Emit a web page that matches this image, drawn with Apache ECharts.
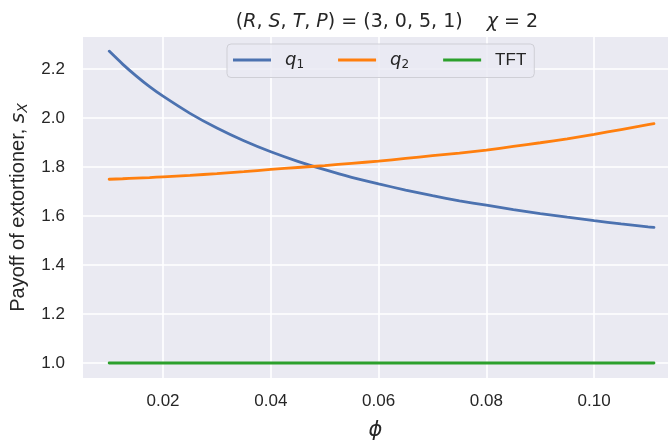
<!DOCTYPE html>
<html>
<head>
<meta charset="utf-8">
<script src="https://cdn.jsdelivr.net/npm/echarts@6/dist/echarts.min.js"></script>
<style>
  html, body { margin: 0; padding: 0; background: #ffffff; }
  #chart { width: 668px; height: 447px; }
</style>
</head>
<body>
<div id="chart"></div>
<script>
// values
const phi = [0.01, 0.0125, 0.015, 0.0175, 0.02, 0.025, 0.03, 0.035, 0.04, 0.045, 0.05, 0.055, 0.06,
  0.065, 0.07, 0.075, 0.08, 0.085, 0.09, 0.095, 0.10, 0.105, 0.11, 0.1111];
const q1 = [2.273, 2.220, 2.172, 2.128, 2.089, 2.019, 1.959, 1.907, 1.862, 1.823, 1.789, 1.758, 1.731,
  1.706, 1.683, 1.662, 1.644, 1.626, 1.610, 1.595, 1.581, 1.568, 1.556, 1.554];
const q2 = [1.750, 1.752, 1.755, 1.757, 1.760, 1.766, 1.773, 1.781, 1.790, 1.798, 1.806, 1.815, 1.824,
  1.835, 1.846, 1.857, 1.869, 1.884, 1.899, 1.915, 1.933, 1.953, 1.973, 1.977];
const tft = phi.map(() => 1.0);

const xTicks = [0.02, 0.04, 0.06, 0.08, 0.10];
const yTicks = [1.0, 1.2, 1.4, 1.6, 1.8, 2.0, 2.2];

const colors = { q1: '#4c72b0', q2: '#ff7f0e', TFT: '#2ca02c' };

const zip = (xs, ys) => xs.map((x, i) => [x, ys[i]]);

const chart = echarts.init(document.getElementById('chart'), null, { renderer: 'canvas' });

const mathFont = 'DejaVu Sans';
const tickFont = 'Liberation Sans';
const ink = '#262626';

const makeSeries = (name, values) => ({
  name: name,
  type: 'line',
  data: zip(phi, values),
  showSymbol: false,
  smooth: 0.2,
  lineStyle: { width: 2.8, color: colors[name], cap: 'round' },
  itemStyle: { color: colors[name] },
  emphasis: { disabled: true }
});

chart.setOption({
  animation: false,
  backgroundColor: '#ffffff',
  title: {
    text: '({i|R}, {i|S}, {i|T}, {i|P}) = (3, 0, 5, 1)    {i|χ} = 2',
    left: 382,
    textAlign: 'center',
    top: 8,
    textStyle: {
      fontFamily: mathFont,
      fontSize: 19,
      fontWeight: 'normal',
      color: ink,
      rich: {
        i: { fontFamily: mathFont, fontStyle: 'italic', fontSize: 19, color: ink }
      }
    }
  },
  legend: {
    left: 227,
    top: 44,
    itemWidth: 38,
    itemHeight: 3,
    itemGap: 34,
    icon: 'rect',
    padding: [7, 8, 7, 6],
    backgroundColor: 'rgba(234,234,242,0.8)',
    borderColor: '#cfcfd6',
    borderWidth: 1,
    borderRadius: 4,
    data: ['q1', 'q2', 'TFT'],
    formatter: (n) => n === 'TFT' ? '{t|TFT}' : '{i|q}{s|' + n.slice(1) + '}',
    textStyle: {
      color: ink,
      fontSize: 17,
      rich: {
        i: { fontFamily: mathFont, fontStyle: 'italic', fontSize: 18, padding: [0, 0, 0, 9], color: ink },
        s: { fontFamily: mathFont, fontSize: 12, padding: [9, 0, 0, 0], color: ink },
        t: { fontFamily: tickFont, fontSize: 17, padding: [0, 0, 0, 9], color: ink }
      }
    }
  },
  grid: {
    left: 83,
    right: 0,
    top: 37,
    bottom: 69,
    show: true,
    backgroundColor: '#eaeaf2',
    borderWidth: 0
  },
  xAxis: {
    type: 'value',
    min: 0.00515,
    max: 0.1137,
    name: 'ϕ',
    nameLocation: 'middle',
    nameGap: 42,
    nameTextStyle: { fontFamily: mathFont, fontStyle: 'italic', fontSize: 21, color: ink },
    axisLine: { show: false },
    axisTick: { show: false, customValues: xTicks },
    axisLabel: {
      customValues: xTicks,
      margin: 15,
      fontFamily: tickFont,
      fontSize: 17,
      color: ink,
      formatter: (v) => v.toFixed(2)
    },
    splitLine: { show: true, lineStyle: { color: '#ffffff', width: 1.6 } }
  },
  yAxis: {
    type: 'value',
    min: 0.9388,
    max: 2.3306,
    name: '{a|Payoff of extortioner, }{i|s}{x|X}',
    nameLocation: 'middle',
    nameRotate: 90,
    nameGap: 49,
    nameTextStyle: {
      rich: {
        a: { fontFamily: tickFont, fontSize: 20, color: ink },
        i: { fontFamily: mathFont, fontStyle: 'italic', fontSize: 20, color: ink },
        x: { fontFamily: mathFont, fontStyle: 'italic', fontSize: 14, padding: [9, 0, 0, 0], color: ink }
      }
    },
    axisLine: { show: false },
    axisTick: { show: false, customValues: yTicks },
    axisLabel: {
      customValues: yTicks,
      margin: 18,
      fontFamily: tickFont,
      fontSize: 17,
      color: ink,
      formatter: (v) => v.toFixed(1)
    },
    splitLine: { show: true, lineStyle: { color: '#ffffff', width: 1.6 } }
  },
  series: [
    makeSeries('q1', q1),
    makeSeries('q2', q2),
    makeSeries('TFT', tft)
  ]
});
</script>
</body>
</html>
